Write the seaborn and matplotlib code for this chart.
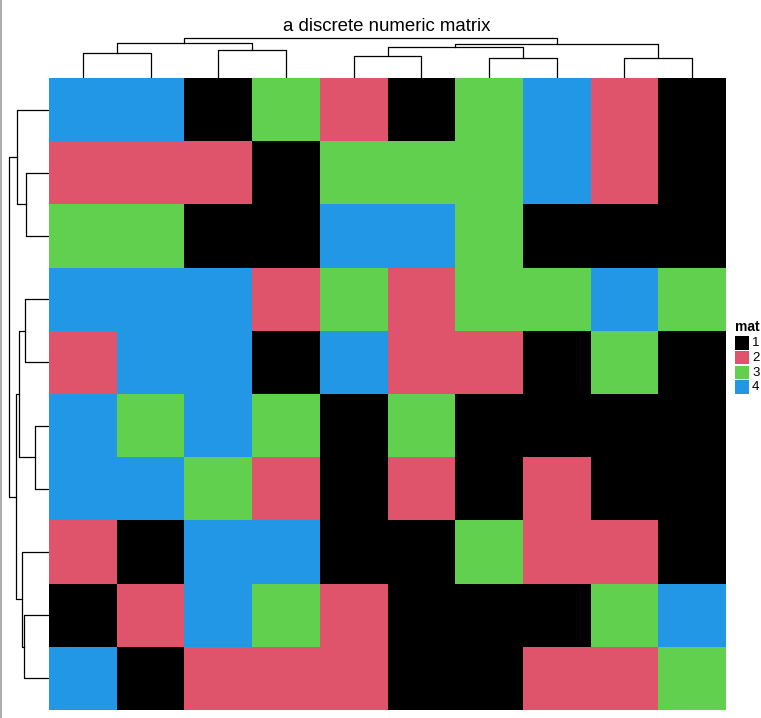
import numpy as np
import pandas as pd
import matplotlib
matplotlib.use("Agg")
import matplotlib.pyplot as plt
from matplotlib.colors import ListedColormap
from matplotlib.patches import Rectangle
from matplotlib.lines import Line2D
import seaborn as sns

# cell values, row by row as displayed
mat_rows = [
    [4, 4, 1, 3, 2, 1, 3, 4, 2, 1],
    [2, 2, 2, 1, 3, 3, 3, 4, 2, 1],
    [3, 3, 1, 1, 4, 4, 3, 1, 1, 1],
    [4, 4, 4, 2, 3, 2, 3, 3, 4, 3],
    [2, 4, 4, 1, 4, 2, 2, 1, 3, 1],
    [4, 3, 4, 3, 1, 3, 1, 1, 1, 1],
    [4, 4, 3, 2, 1, 2, 1, 2, 1, 1],
    [2, 1, 4, 4, 1, 1, 3, 2, 2, 1],
    [1, 2, 4, 3, 2, 1, 1, 1, 3, 4],
    [4, 1, 2, 2, 2, 1, 1, 2, 2, 3],
]
levels = [1, 2, 3, 4]
level_colors = ["#000000", "#DF536B", "#61D04F", "#2297E6"]

# dendrogram merges (left child, right child, height); leaves 0-9, new nodes 10, 11, ...
col_merges = [(0, 1, 24.7), (2, 3, 27.7), (4, 5, 21.7), (6, 7, 19.7), (8, 9, 19.7),
              (12, 13, 30.7), (10, 11, 34.7), (15, 14, 33.7), (16, 17, 39.7)]
row_merges = [(1, 2, 22.7), (0, 10, 31.7), (3, 4, 23.7), (5, 6, 13.7), (12, 13, 30.5),
              (8, 9, 24.7), (7, 15, 26.7), (14, 16, 32.7), (11, 17, 39.7)]

df = pd.DataFrame(mat_rows)

fig = plt.figure(figsize=(7.61, 7.18), dpi=100)
W, H = 761, 718


def px_axes(x0, y0, x1, y1):
    return fig.add_axes([x0 / W, 1 - y1 / H, (x1 - x0) / W, (y1 - y0) / H])


ax = px_axes(49, 78, 726, 710)
sns.heatmap(df, ax=ax, cmap=ListedColormap(level_colors), vmin=0.5, vmax=4.5,
            cbar=False, xticklabels=False, yticklabels=False)


def draw_dendro(ax, merges, horizontal):
    pos = {i: i + 0.5 for i in range(10)}
    hgt = {i: 0.0 for i in range(10)}
    for k, (a, b, h) in enumerate(merges):
        p = [pos[a], pos[a], pos[b], pos[b]]
        q = [hgt[a], h, h, hgt[b]]
        if horizontal:
            ax.plot(p, q, color="black", lw=0.9, solid_capstyle="projecting")
        else:
            ax.plot(q, p, color="black", lw=0.9, solid_capstyle="projecting")
        pos[10 + k] = (pos[a] + pos[b]) / 2
        hgt[10 + k] = h


cax = px_axes(49, 36, 726, 78)
draw_dendro(cax, col_merges, True)
cax.set_xlim(0, 10)
cax.set_ylim(0, 42)
cax.axis("off")

rax = px_axes(7, 78, 49, 710)
draw_dendro(rax, row_merges, False)
rax.set_xlim(42, 0)
rax.set_ylim(10, 0)
rax.axis("off")

fig.text(387 / W, 1 - 31 / H, "a discrete numeric matrix", ha="center", va="baseline",
         fontsize=13.4, family="Liberation Sans")

# legend drawn by hand
lax = px_axes(730, 315, 761, 400)
lax.set_xlim(730, 761)
lax.set_ylim(400, 315)
lax.axis("off")
lax.text(735, 331, "mat", ha="left", va="baseline", fontsize=10, fontweight="bold",
         family="Liberation Sans")
for i, (lev, col) in enumerate(zip(levels, level_colors)):
    top = 336 + i * 14.8
    lax.add_patch(Rectangle((735, top), 14, 13.5, facecolor=col, edgecolor="none"))
    lax.text(752, top + 7, str(lev), ha="left", va="center", fontsize=9.5,
             family="Liberation Sans")

# window border seen at the left of the screenshot
fig.add_artist(Line2D([1.5 / W, 1.5 / W], [0, 1], color="#a0a0a0", lw=1.2,
                      transform=fig.transFigure))

fig.savefig("out.png", dpi=100)
